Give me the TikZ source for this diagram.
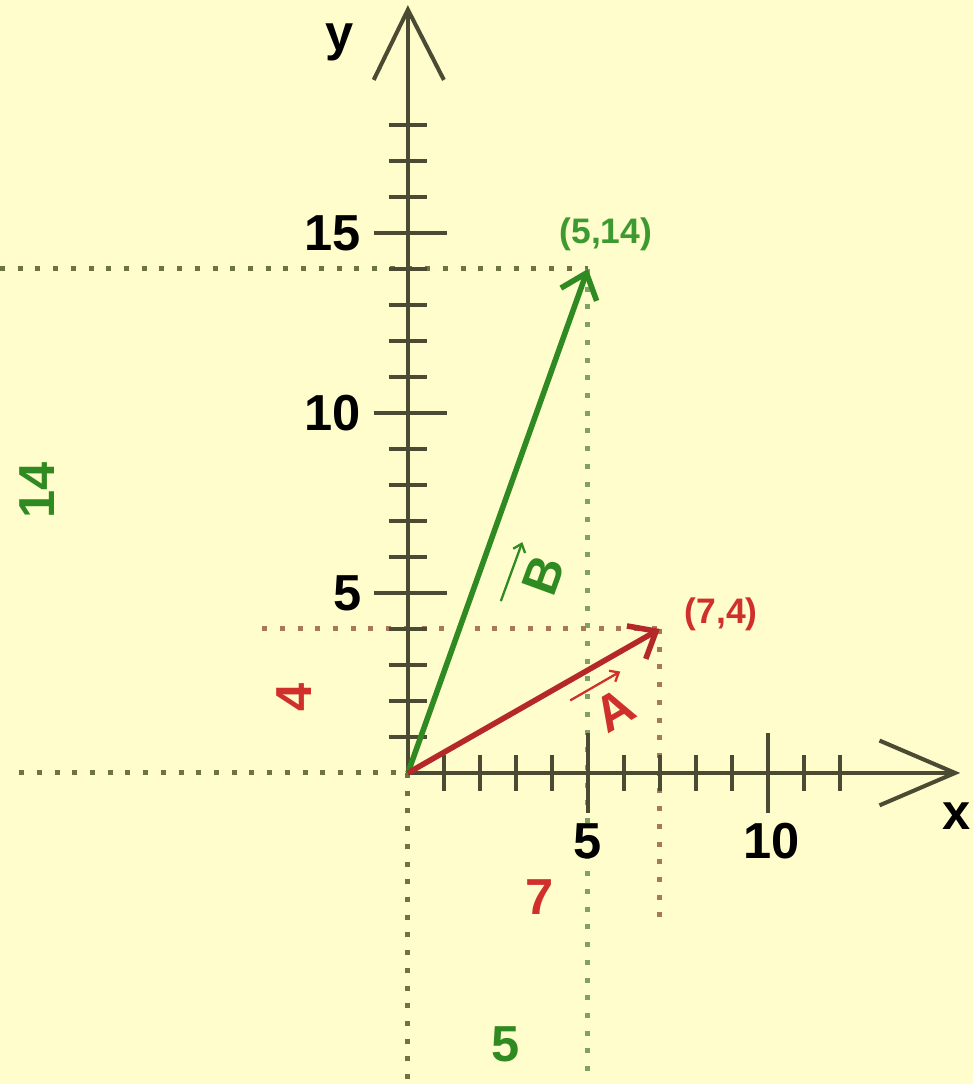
\documentclass[tikz,border=0pt]{standalone}
\usepackage{fontspec}
\setmainfont{Liberation Sans}
\usetikzlibrary{arrows.meta}
\definecolor{Bg_Yellow}{HTML}{FFFDCB}
\definecolor{Vec_Green}{HTML}{2F8A22}
\definecolor{Vec_Red}{HTML}{B5282A}
\definecolor{Dot_Olive}{HTML}{6E7440}
\definecolor{Dot_Green}{HTML}{7FA066}
\definecolor{Dot_Red}{HTML}{A8785A}
\definecolor{Axis_Dark}{HTML}{4B4B33}
\definecolor{Label_Green}{HTML}{3C9A30}
\definecolor{Label_Red}{HTML}{D0302C}

\begin{document}
\begin{tikzpicture}[x=0.5cm, y=0.5cm,
    axisline/.style={Axis_Dark, line width=1.6pt},
    dotline/.style={line width=2pt, dash pattern=on 2pt off 5pt},
    vecline/.style={line width=2.2pt, -{Straight Barb[length=9pt,width=15pt,line width=2.2pt]}},
    overarrow/.style={line width=0.9pt, -{Straight Barb[length=3pt,width=5pt]}},
    biglabel/.style={font=\fontsize{20}{22}\selectfont\bfseries},
    ptlabel/.style={font=\fontsize{14}{16}\selectfont\bfseries},
    veclabel/.style={inner xsep=2pt, inner ysep=5pt, font=\fontsize{20}{22}\selectfont\bfseries}]

    % Background
    \fill[Bg_Yellow] (-11.33,-8.64) rectangle (15.69,21.47);
    \useasboundingbox (-11.33,-8.64) rectangle (15.69,21.47);

    % Points
    \coordinate (O) at (0,0);
    \coordinate (Atip) at (7,4);
    \coordinate (Btip) at (5,14);
    \coordinate (xtip) at (15.2,0);
    \coordinate (ytip) at (0,21.2);

    % Projection lines
    \draw[dotline, Dot_Olive] (-10.8,0) -- (O);
    \draw[dotline, Dot_Olive] (O) -- (0,-8.64);
    \draw[dotline, Dot_Olive] (-11.33,14) -- (Btip);
    \draw[dotline, Dot_Green] (Btip) -- (5,-8.64);
    \draw[dotline, Dot_Red] (-4.05,4) -- (Atip);
    \draw[dotline, Dot_Red] (Atip) -- (7,-4.1);

    % Axes
    \draw[axisline] (O) -- (xtip);
    \draw[axisline] (13.1,0.9) -- (xtip) -- (13.1,-0.9);
    \draw[axisline] (O) -- (ytip);
    \draw[axisline] (-0.95,19.25) -- (ytip) -- (1.0,19.25);

    % Ticks
    \foreach \t in {1,2,3,4,6,7,8,9,11,12}
        \draw[axisline] (\t,-0.5) -- (\t,0.5);
    \foreach \t in {5,10}
        \draw[axisline] (\t,-1.1) -- (\t,1.1);
    \foreach \t in {1,2,3,4,6,7,8,9,11,12,13,14,16,17,18}
        \draw[axisline] (-0.53,\t) -- (0.53,\t);
    \foreach \t in {5,10,15}
        \draw[axisline] (-0.95,\t) -- (1.1,\t);

    % Tick labels
    \node[biglabel, anchor=east] (ylab15) at (-1.05,15) {15};
    \node[biglabel, anchor=east] (ylab10) at (-1.05,10) {10};
    \node[biglabel, anchor=east] (ylab5) at (-1.05,5) {5};
    \node[biglabel] (xlab5) at (5,-1.9) {5};
    \node[biglabel] (xlab10) at (10.1,-1.9) {10};
    \node[biglabel] (xname) at (15.25,-1.2) {x};
    \node[biglabel] (yname) at (-1.9,20.3) {y};

    % Vectors
    \draw[vecline, Vec_Green] (O) -- (Btip);
    \draw[vecline, Vec_Red] (O) -- (Atip);

    % Vector labels
    \node[ptlabel, Label_Green] (Bpt) at (5.5,14.95) {(5,14)};
    \node[ptlabel, Label_Red] (Apt) at (8.7,4.4) {(7,4)};
    \node[veclabel, Vec_Green, rotate=70] (Bname) at (3.75,5.5) {B};
    \draw[overarrow, Vec_Green, shorten <=-6pt] (Bname.north west) -- (Bname.north east);
    \node[veclabel, Label_Red, rotate=30] (Aname) at (5.75,1.75) {A};
    \draw[overarrow, Label_Red, shorten <=-4pt] (Aname.north west) -- (Aname.north east);

    % Components
    \node[biglabel, Vec_Green, rotate=90] (Bcomp14) at (-10.3,7.85) {14};
    \node[biglabel, Vec_Green] (Bcomp5) at (2.7,-7.55) {5};
    \node[biglabel, Label_Red, rotate=90] (Acomp4) at (-3.15,2.1) {4};
    \node[biglabel, Label_Red] (Acomp7) at (3.65,-3.45) {7};
\end{tikzpicture}
\end{document}
